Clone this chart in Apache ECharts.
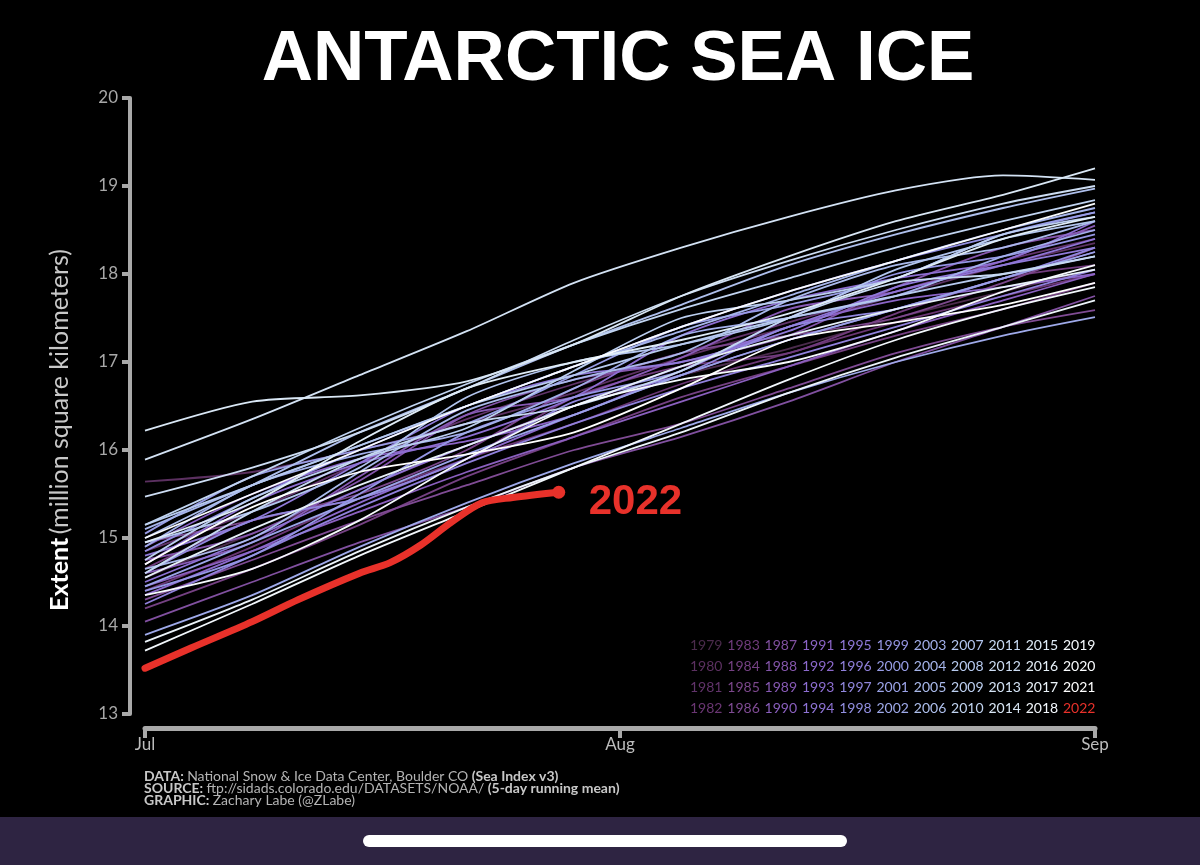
<!DOCTYPE html>
<html>
<head>
<meta charset="utf-8">
<title>Antarctic Sea Ice</title>
<script src="https://cdn.jsdelivr.net/npm/echarts@6/dist/echarts.min.js"></script>
<style>
  html, body { margin: 0; padding: 0; background: #000; }
  #chart { width: 1200px; height: 865px; }
</style>
</head>
<body>
<div id="chart"></div>
<script>
const days = [0, 7, 14, 21, 28, 35, 42, 49, 56, 62];
const days2022 = [0, 3, 7, 10, 14, 16, 18, 20, 22, 24, 27];
const monthLabels = ['Jul', 'Aug', 'Sep'];

const years = [1979, 1980, 1981, 1982, 1983, 1984, 1985, 1986, 1987, 1988, 1989,
  1990, 1991, 1992, 1993, 1994, 1995, 1996, 1997, 1998, 1999, 2000, 2001, 2002,
  2003, 2004, 2005, 2006, 2007, 2008, 2009, 2010, 2011, 2012, 2013, 2014, 2015,
  2016, 2017, 2018, 2019, 2020, 2021, 2022];

// million km², one value per entry of days
const e1979 = [14.55, 15.05, 15.55, 16.05, 16.50, 16.85, 17.15, 17.50, 17.80, 18.05];
const e1980 = [15.64, 15.75, 16.00, 16.30, 16.65, 17.05, 17.40, 17.75, 18.10, 18.35];
const e1981 = [14.85, 15.30, 15.85, 16.35, 16.75, 17.10, 17.45, 17.80, 18.15, 18.40];
const e1982 = [14.40, 14.90, 15.45, 15.90, 16.30, 16.75, 17.10, 17.45, 17.75, 18.00];
const e1983 = [14.65, 15.20, 15.45, 15.90, 16.60, 16.95, 17.10, 17.55, 17.95, 18.10];
const e1984 = [14.20, 14.65, 15.15, 15.70, 16.15, 16.60, 16.95, 17.30, 17.60, 17.90];
const e1985 = [14.95, 15.20, 15.50, 16.00, 16.70, 17.10, 17.30, 17.50, 17.90, 18.30];
const e1986 = [14.30, 14.75, 15.20, 15.60, 16.00, 16.30, 16.70, 17.10, 17.40, 17.59];
const e1987 = [14.05, 14.50, 14.95, 15.35, 15.80, 16.15, 16.55, 17.00, 17.40, 17.75];
const e1988 = [14.75, 15.05, 15.65, 16.40, 16.80, 17.00, 17.30, 17.85, 18.30, 18.50];
const e1989 = [14.60, 14.95, 15.70, 16.40, 16.60, 17.05, 17.60, 17.80, 18.15, 18.55];
const e1990 = [14.45, 14.85, 15.30, 15.75, 16.15, 16.55, 16.95, 17.35, 17.70, 18.00];
const e1991 = [14.90, 15.50, 15.90, 16.10, 16.40, 16.90, 17.40, 17.70, 17.85, 18.00];
const e1992 = [14.35, 14.85, 15.40, 15.90, 16.40, 16.85, 17.25, 17.60, 17.95, 18.25];
const e1993 = [14.70, 15.40, 15.85, 16.15, 16.60, 17.30, 17.70, 17.95, 18.15, 18.60];
const e1994 = [14.50, 15.00, 15.55, 16.05, 16.50, 16.95, 17.40, 17.80, 18.10, 18.40];
const e1995 = [14.80, 15.20, 15.85, 16.50, 16.85, 17.00, 17.35, 17.85, 18.10, 18.30];
const e1996 = [14.25, 14.80, 15.35, 15.85, 16.30, 16.70, 17.05, 17.40, 17.75, 18.05];
const e1997 = [14.60, 15.20, 15.45, 15.90, 16.55, 16.85, 17.40, 17.60, 17.95, 18.30];
const e1998 = [14.85, 15.45, 16.00, 16.50, 16.95, 17.40, 17.80, 18.15, 18.45, 18.70];
const e1999 = [14.40, 14.80, 15.50, 16.20, 16.60, 16.90, 17.50, 18.00, 18.20, 18.45];
const e2000 = [15.05, 15.70, 16.00, 16.30, 16.85, 17.40, 17.65, 17.95, 18.45, 18.70];
const e2001 = [14.45, 14.95, 15.45, 15.95, 16.40, 16.85, 17.25, 17.60, 17.95, 18.25];
const e2002 = [13.90, 14.35, 14.90, 15.40, 15.85, 16.25, 16.65, 17.00, 17.30, 17.51];
const e2003 = [14.90, 15.60, 15.95, 16.20, 16.70, 17.30, 17.50, 17.75, 18.20, 18.50];
const e2004 = [15.10, 15.60, 16.05, 16.50, 16.95, 17.35, 17.75, 18.15, 18.50, 18.75];
const e2005 = [14.65, 15.00, 15.75, 16.45, 16.80, 17.10, 17.70, 18.10, 18.30, 18.60];
const e2006 = [15.00, 15.60, 16.20, 16.70, 17.20, 17.65, 18.10, 18.45, 18.75, 18.97];
const e2007 = [14.95, 15.30, 15.80, 16.60, 17.00, 17.20, 17.50, 18.05, 18.40, 18.60];
const e2008 = [15.15, 15.60, 16.05, 16.50, 16.85, 17.20, 17.50, 17.75, 18.00, 18.20];
const e2009 = [14.75, 15.45, 15.90, 16.25, 16.90, 17.50, 17.70, 17.95, 18.45, 18.65];
const e2010 = [15.15, 15.70, 16.25, 16.75, 17.20, 17.60, 17.95, 18.30, 18.60, 18.84];
const e2011 = [14.60, 15.30, 15.90, 16.30, 16.50, 16.90, 17.50, 17.90, 18.00, 18.20];
const e2012 = [15.47, 15.80, 16.20, 16.70, 17.25, 17.75, 18.15, 18.50, 18.80, 19.00];
const e2013 = [15.89, 16.35, 16.85, 17.35, 17.90, 18.30, 18.65, 18.95, 19.12, 19.07];
const e2014 = [16.22, 16.55, 16.62, 16.78, 17.20, 17.75, 18.20, 18.60, 18.90, 19.20];
const e2015 = [14.95, 15.40, 16.10, 16.70, 17.00, 17.25, 17.55, 17.95, 18.40, 18.65];
const e2016 = [14.55, 15.10, 15.60, 16.05, 16.50, 16.95, 17.30, 17.60, 17.85, 18.05];
const e2017 = [13.82, 14.30, 14.85, 15.35, 15.80, 16.20, 16.65, 17.05, 17.40, 17.70];
const e2018 = [13.72, 14.25, 14.80, 15.30, 15.80, 16.30, 16.80, 17.25, 17.60, 17.85];
const e2019 = [14.35, 14.65, 15.20, 15.90, 16.50, 16.80, 17.00, 17.35, 17.80, 18.10];
const e2020 = [15.00, 15.50, 16.00, 16.50, 16.95, 17.40, 17.80, 18.15, 18.50, 18.80];
const e2021 = [14.70, 15.35, 15.75, 15.95, 16.20, 16.70, 17.25, 17.45, 17.65, 17.90];
const e2022 = [13.52, 13.75, 14.05, 14.30, 14.60, 14.72, 14.92, 15.18, 15.40, 15.46, 15.52];

const pastExtents = [e1979, e1980, e1981, e1982, e1983, e1984, e1985, e1986, e1987,
  e1988, e1989, e1990, e1991, e1992, e1993, e1994, e1995, e1996, e1997, e1998, e1999,
  e2000, e2001, e2002, e2003, e2004, e2005, e2006, e2007, e2008, e2009, e2010, e2011,
  e2012, e2013, e2014, e2015, e2016, e2017, e2018, e2019, e2020, e2021];

// colour ramp: plum -> violet -> periwinkle -> white, 2022 red
const yearColors = ['#4b2b4c', '#5b3060', '#61336a', '#6a3673', '#703b7c', '#754183',
  '#7b478b', '#7f4b94', '#8150a0', '#8455aa', '#8759b4', '#8a5fbe', '#8b64c6', '#8c69cc',
  '#8d6ed1', '#8e73d5', '#8f79d8', '#9080db', '#9187de', '#928fe1', '#9596e4', '#989de6',
  '#9ba3e8', '#9ea9e9', '#a2afea', '#a6b5eb', '#aabaeb', '#aebfec', '#b2c5ee', '#b7caef',
  '#bccff0', '#c1d4f1', '#c7d9f2', '#cdddf3', '#d3e2f4', '#d9e7f5', '#dfecf7', '#e6f0f8',
  '#ecf4fa', '#f2f7fc', '#f6fafd', '#fafcfe', '#ffffff', '#e8312a'];

const RED = '#e8312a';
const AXIS_GREY = '#a9a9a9';
const FONT = 'Lato, "Liberation Sans", sans-serif';

const chart = echarts.init(document.getElementById('chart'));

const series = pastExtents.map((vals, i) => ({
    type: 'line',
    name: String(years[i]),
    data: vals.map((v, j) => [days[j], v]),
    smooth: 0.25,
    showSymbol: false,
    lineStyle: { width: 1.8, color: yearColors[i] },
    z: 2,
    silent: true
}));

const last = e2022.length - 1;
series.push({
    type: 'line',
    name: '2022',
    data: e2022.map((v, j) => j === last
        ? { value: [days2022[j], v], symbol: 'circle', symbolSize: 13 }
        : { value: [days2022[j], v], symbol: 'none' }),
    smooth: 0.3,
    showSymbol: true,
    itemStyle: { color: RED },
    lineStyle: { width: 7, color: RED, cap: 'round' },
    endLabel: {
        show: true,
        formatter: '2022',
        color: RED,
        fontSize: 42,
        fontWeight: 'bold',
        fontFamily: '"Liberation Sans", Arial, sans-serif',
        distance: 30,
        offset: [0, 10]
    },
    z: 5,
    silent: true
});

// year key, 11 columns x 4 rows, filled column by column
const keyText = years.map((yr, k) => ({
    type: 'text',
    x: 690 + Math.floor(k / 4) * 37.3,
    y: 645 + (k % 4) * 21.3,
    style: {
        text: String(yr),
        fill: yearColors[k],
        font: '14px ' + FONT,
        textVerticalAlign: 'middle'
    }
}));

const footer = {
    type: 'text',
    x: 144,
    y: 770,
    style: {
        text: '{b|DATA:} {r|National Snow & Ice Data Center, Boulder CO} {b|(Sea Index v3)}\n' +
              '{b|SOURCE:} {r|ftp://sidads.colorado.edu/DATASETS/NOAA/} {b|(5-day running mean)}\n' +
              '{b|GRAPHIC:} {r|Zachary Labe (@ZLabe)}',
        rich: {
            b: { fontFamily: FONT, fontSize: 14, fontWeight: 'bold', fill: '#c8c8c8', lineHeight: 12 },
            r: { fontFamily: FONT, fontSize: 14, fill: '#b4b4b4', lineHeight: 12 }
        }
    }
};

chart.setOption({
    backgroundColor: '#000',
    animation: false,
    grid: { left: 145, right: 105, top: 98, bottom: 151 },
    xAxis: {
        type: 'value',
        min: 0,
        max: 62,
        interval: 31,
        offset: 14,
        axisLine: { onZero: false, lineStyle: { color: AXIS_GREY, width: 5 } },
        axisTick: { length: 10, lineStyle: { color: AXIS_GREY, width: 4 } },
        axisLabel: {
            color: '#bcbcbc',
            fontSize: 17,
            fontFamily: FONT,
            margin: 8,
            formatter: (v) => monthLabels[Math.round(v / 31)]
        },
        splitLine: { show: false }
    },
    yAxis: {
        type: 'value',
        min: 13,
        max: 20,
        interval: 1,
        offset: 15,
        axisLine: { show: true, onZero: false, lineStyle: { color: AXIS_GREY, width: 4 } },
        axisTick: { show: true, length: 8, lineStyle: { color: AXIS_GREY, width: 4 } },
        axisLabel: { color: '#a8a8a8', fontSize: 17, fontFamily: FONT, margin: 12 },
        splitLine: { show: false },
        name: '{b|Extent} {r|(million square kilometers)}',
        nameLocation: 'middle',
        nameRotate: 90,
        nameGap: 58,
        nameTextStyle: {
            padding: [0, 48, 0, 0],
            rich: {
                b: { fontFamily: FONT, fontSize: 25, fontWeight: 'bold', color: '#ffffff' },
                r: { fontFamily: FONT, fontSize: 25, color: '#c8c8c8' }
            }
        }
    },
    series: series,
    graphic: [
        {
            type: 'text',
            x: 618,
            y: 60,
            style: {
                text: 'ANTARCTIC SEA ICE',
                fill: '#ffffff',
                font: 'bold 71px "Liberation Sans", Arial, sans-serif',
                textAlign: 'center',
                textVerticalAlign: 'middle'
            }
        },
        footer,
        ...keyText,
        {
            type: 'rect',
            shape: { x: 0, y: 817, width: 1200, height: 48 },
            style: { fill: '#2e2442' },
            z: 10
        },
        {
            type: 'rect',
            shape: { x: 363, y: 835, width: 484, height: 12, r: 6 },
            style: { fill: '#ffffff' },
            z: 11
        }
    ]
});
</script>
</body>
</html>
